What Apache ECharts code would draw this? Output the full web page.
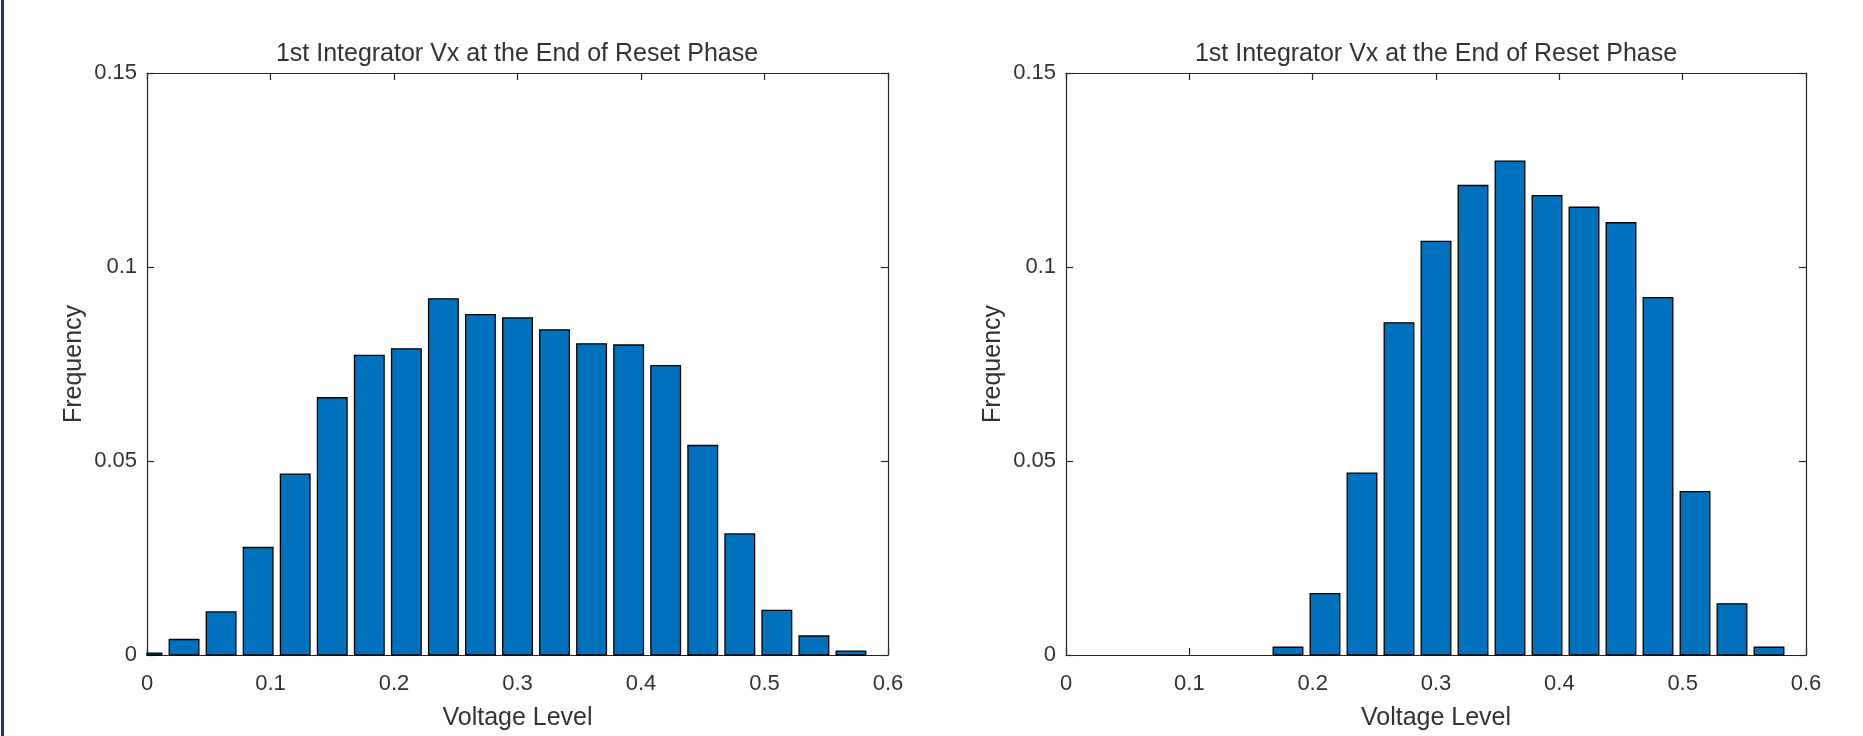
<!DOCTYPE html>
<html>
<head>
<meta charset="utf-8">
<title>1st Integrator Vx at the End of Reset Phase</title>
<script src="https://cdn.jsdelivr.net/npm/echarts@6/dist/echarts.min.js"></script>
<style>
html, body { margin: 0; padding: 0; background: #fff; }
#main { width: 1863px; height: 736px; }
</style>
</head>
<body>
<div id="main"></div>
<script>
// histogram bin centres (Voltage Level), bin width 0.03
var binCenters = [0, 0.03, 0.06, 0.09, 0.12, 0.15, 0.18, 0.21, 0.24, 0.27,
                  0.30, 0.33, 0.36, 0.39, 0.42, 0.45, 0.48, 0.51, 0.54, 0.57];
var binWidth = 0.03;

// frequency, left plot
var freqLeft = [0.0005, 0.0040, 0.0111, 0.0277, 0.0466, 0.0663, 0.0772, 0.0789, 0.0918, 0.0877,
                0.0869, 0.0838, 0.0802, 0.0799, 0.0746, 0.0540, 0.0312, 0.0115, 0.0049, 0.0010];
// frequency, right plot
var freqRight = [0, 0, 0, 0, 0, 0, 0.0020, 0.0158, 0.0469, 0.0856,
                 0.1066, 0.1210, 0.1273, 0.1184, 0.1154, 0.1114, 0.0921, 0.0421, 0.0132, 0.0020];

var xTicks = [0, 0.6, 0.1];      // min, max, step
var yTicks = [0, 0.15, 0.05];

var titleText = '1st Integrator Vx at the End of Reset Phase';
var xName = 'Voltage Level';
var yName = 'Frequency';

var font = "'Liberation Sans', Arial, sans-serif";
var ink = '#333333';
var axisInk = '#262626';

function pairs(vals) {
  return binCenters.map(function (c, i) { return [c, vals[i]]; });
}

function renderBar(params, api) {
  var c = api.value(0), v = api.value(1);
  if (!(v > 0)) return null;
  var half = binWidth * 0.8 / 2;
  var p0 = api.coord([c - half, v]);
  var p1 = api.coord([c + half, 0]);
  var cs = params.coordSys;
  var shape = echarts.graphic.clipRectByRect(
    { x: p0[0], y: p0[1], width: p1[0] - p0[0], height: p1[1] - p0[1] },
    { x: cs.x, y: cs.y, width: cs.width, height: cs.height });
  if (!shape) return null;
  return {
    type: 'rect',
    shape: shape,
    style: { fill: '#0072BD', stroke: '#000', lineWidth: 1.3 }
  };
}

function xAx(grid, pos, main) {
  return {
    type: 'value', gridIndex: grid, position: pos,
    min: xTicks[0], max: xTicks[1], interval: xTicks[2],
    name: main ? xName : '', nameLocation: 'middle', nameGap: 51,
    nameTextStyle: { fontFamily: font, fontSize: 25, color: ink },
    axisLine: { show: true, onZero: false, lineStyle: { color: axisInk, width: 1.2 } },
    axisTick: { show: true, inside: true, length: 7, lineStyle: { color: axisInk, width: 1.2 } },
    axisLabel: { show: main, margin: 18, fontFamily: font, fontSize: 22, color: ink },
    splitLine: { show: false }
  };
}

function yAx(grid, pos, main) {
  return {
    type: 'value', gridIndex: grid, position: pos,
    min: yTicks[0], max: yTicks[1], interval: yTicks[2],
    name: main ? yName : '', nameLocation: 'middle', nameGap: 60, nameRotate: 90,
    nameTextStyle: { fontFamily: font, fontSize: 25, color: ink },
    axisLine: { show: true, onZero: false, lineStyle: { color: axisInk, width: 1.2 } },
    axisTick: { show: true, inside: true, length: 7, lineStyle: { color: axisInk, width: 1.2 } },
    axisLabel: { show: main, margin: 10, fontFamily: font, fontSize: 22, color: ink },
    splitLine: { show: false }
  };
}

var chart = echarts.init(document.getElementById('main'));
chart.setOption({
  animation: false,
  backgroundColor: '#fff',
  title: [
    { text: titleText, left: 517, top: 42, padding: 0, textAlign: 'center',
      textStyle: { fontFamily: font, fontSize: 25, fontWeight: 'normal', color: ink } },
    { text: titleText, left: 1436, top: 42, padding: 0, textAlign: 'center',
      textStyle: { fontFamily: font, fontSize: 25, fontWeight: 'normal', color: ink } }
  ],
  grid: [
    { left: 147, top: 73, width: 741, height: 584 },
    { left: 1066, top: 73, width: 740, height: 584 }
  ],
  xAxis: [xAx(0, 'bottom', true), xAx(0, 'top', false), xAx(1, 'bottom', true), xAx(1, 'top', false)],
  yAxis: [yAx(0, 'left', true), yAx(0, 'right', false), yAx(1, 'left', true), yAx(1, 'right', false)],
  series: [
    { type: 'custom', xAxisIndex: 0, yAxisIndex: 0, renderItem: renderBar, data: pairs(freqLeft) },
    { type: 'custom', xAxisIndex: 2, yAxisIndex: 2, renderItem: renderBar, data: pairs(freqRight) }
  ],
  graphic: [
    { type: 'rect', left: 1, top: 0, shape: { width: 3, height: 736 }, style: { fill: '#183476' } }
  ]
});
</script>
</body>
</html>
